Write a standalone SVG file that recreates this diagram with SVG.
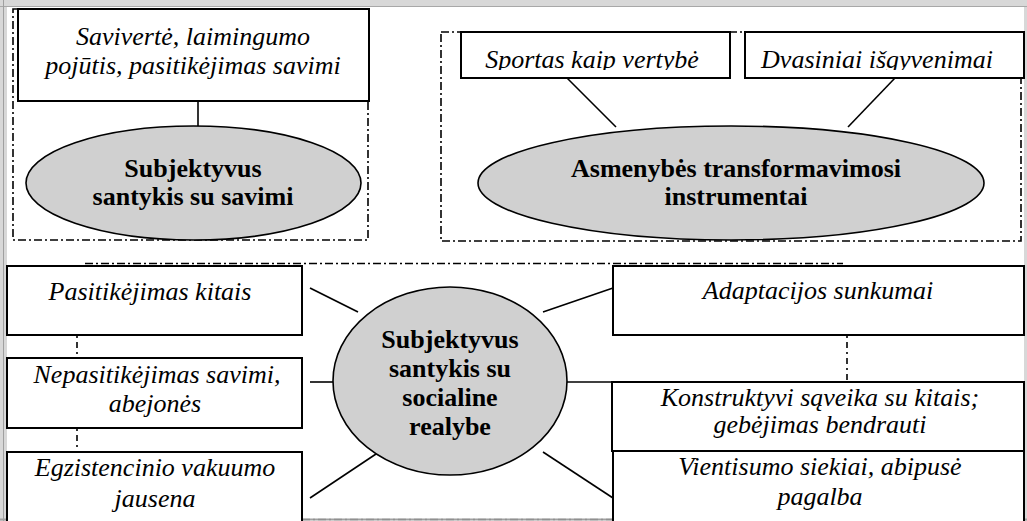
<svg xmlns="http://www.w3.org/2000/svg" width="1027" height="521" viewBox="0 0 1027 521">
<style>
.box{fill:#fff;stroke:#000;stroke-width:2}
.ell{fill:#d0d0d0;stroke:#000;stroke-width:1.6}
.dash{fill:none;stroke:#000;stroke-width:1.6;stroke-dasharray:8 3 2 3}
.dot{fill:none;stroke:#000;stroke-width:1.6;stroke-dasharray:2 4 6 4}
.ln{stroke:#000;stroke-width:1.6;fill:none}
.it{font-family:"Liberation Serif","Times New Roman",serif;font-style:italic;font-size:26px;fill:#000;text-anchor:middle}
.bd{font-family:"Liberation Serif","Times New Roman",serif;font-weight:bold;font-size:26px;fill:#000;text-anchor:middle}
.frame{fill:#d8d8d8}
</style>
<defs>
<clipPath id="clipTop"><rect x="0" y="33" width="1027" height="37"/></clipPath>
</defs>
<rect width="1027" height="521" fill="#fff"/>
<g id="frame">
<rect class="frame" x="0" y="0" width="1027" height="6"/>
<rect class="frame" x="0" y="0" width="7" height="521"/>
<rect class="frame" x="1024" y="0" width="3" height="521"/>
<line x1="0" y1="6.5" x2="1027" y2="6.5" stroke="#a8a8a8" stroke-width="1"/>
<line x1="3.5" y1="0" x2="3.5" y2="521" stroke="#a0a0a0" stroke-width="1"/>
<line x1="0" y1="519.5" x2="1027" y2="519.5" stroke="#a0a0a0" stroke-width="2"/>
</g>
<g id="groups">
<rect class="dash" x="13" y="9" width="355" height="231"/>
<rect class="dash" x="441" y="32" width="580" height="209"/>
<line class="dash" x1="85" y1="263.5" x2="843" y2="263.5"/>
<line x1="302" y1="519.5" x2="613" y2="519.5" stroke="#909090" stroke-width="1.6" stroke-dasharray="8 3 2 3"/>
</g>
<g id="connectors">
<line class="ln" x1="198" y1="101" x2="198" y2="126"/>
<line class="ln" x1="567" y1="78" x2="616" y2="127"/>
<line class="ln" x1="895" y1="78" x2="848" y2="127"/>
<line class="ln" x1="310" y1="288" x2="358" y2="312"/>
<line class="ln" x1="310" y1="382" x2="334" y2="382"/>
<line class="ln" x1="310" y1="498" x2="379" y2="452"/>
<line class="ln" x1="543" y1="312" x2="613" y2="288"/>
<line class="ln" x1="567" y1="382" x2="613" y2="382"/>
<line class="ln" x1="543" y1="452" x2="613" y2="498"/>
<line class="dot" x1="77" y1="336" x2="77" y2="357"/>
<line class="dot" x1="77" y1="429" x2="77" y2="451"/>
<line class="dot" x1="847" y1="336" x2="847" y2="381"/>
</g>
<g id="n-saviverte">
<rect class="box" x="18" y="9" width="351" height="92"/>
<text class="it" x="193" y="45">Savivertė, laimingumo</text>
<text class="it" x="193" y="74">pojūtis, pasitikėjimas savimi</text>
</g>
<g id="n-subj-savimi">
<ellipse class="ell" cx="193.5" cy="183" rx="167.5" ry="57"/>
<text class="bd" x="193" y="177">Subjektyvus</text>
<text class="bd" x="193" y="205">santykis su savimi</text>
</g>
<g id="n-sportas">
<rect class="box" x="461" y="32" width="269" height="46"/>
<text class="it" x="592" y="68" clip-path="url(#clipTop)">Sportas kaip vertybė</text>
</g>
<g id="n-dvasiniai">
<rect class="box" x="745" y="32" width="279" height="46"/>
<text class="it" x="877" y="68" clip-path="url(#clipTop)">Dvasiniai išgyvenimai</text>
</g>
<g id="n-asmenybes">
<ellipse class="ell" cx="731" cy="183" rx="253" ry="57"/>
<text class="bd" x="736" y="177">Asmenybės transformavimosi</text>
<text class="bd" x="736" y="205">instrumentai</text>
</g>
<g id="n-pasitikejimas">
<rect class="box" x="7" y="266" width="295" height="69"/>
<text class="it" x="150" y="300">Pasitikėjimas kitais</text>
</g>
<g id="n-nepasitikejimas">
<rect class="box" x="7" y="358" width="295" height="70"/>
<text class="it" x="157" y="383">Nepasitikėjimas savimi,</text>
<text class="it" x="155" y="412">abejonės</text>
</g>
<g id="n-egzistencinio">
<rect class="box" x="7" y="452" width="295" height="80"/>
<text class="it" x="155" y="476">Egzistencinio vakuumo</text>
<text class="it" x="155" y="507">jausena</text>
</g>
<g id="n-socialine">
<ellipse class="ell" cx="450" cy="381" rx="117" ry="94"/>
<text class="bd" x="450" y="348">Subjektyvus</text>
<text class="bd" x="450" y="377">santykis su</text>
<text class="bd" x="450" y="406">socialine</text>
<text class="bd" x="450" y="435">realybe</text>
</g>
<g id="n-adaptacijos">
<rect class="box" x="613" y="266" width="411" height="69"/>
<text class="it" x="818" y="299">Adaptacijos sunkumai</text>
</g>
<g id="n-konstruktyvi">
<rect class="box" x="612" y="382" width="412" height="69"/>
<text class="it" x="820" y="406">Konstruktyvi sąveika su kitais;</text>
<text class="it" x="820" y="433">gebėjimas bendrauti</text>
</g>
<g id="n-vientisumo">
<rect class="box" x="613" y="451" width="411" height="80"/>
<text class="it" x="820" y="475">Vientisumo siekiai, abipusė</text>
<text class="it" x="820" y="505">pagalba</text>
</g>
</svg>
